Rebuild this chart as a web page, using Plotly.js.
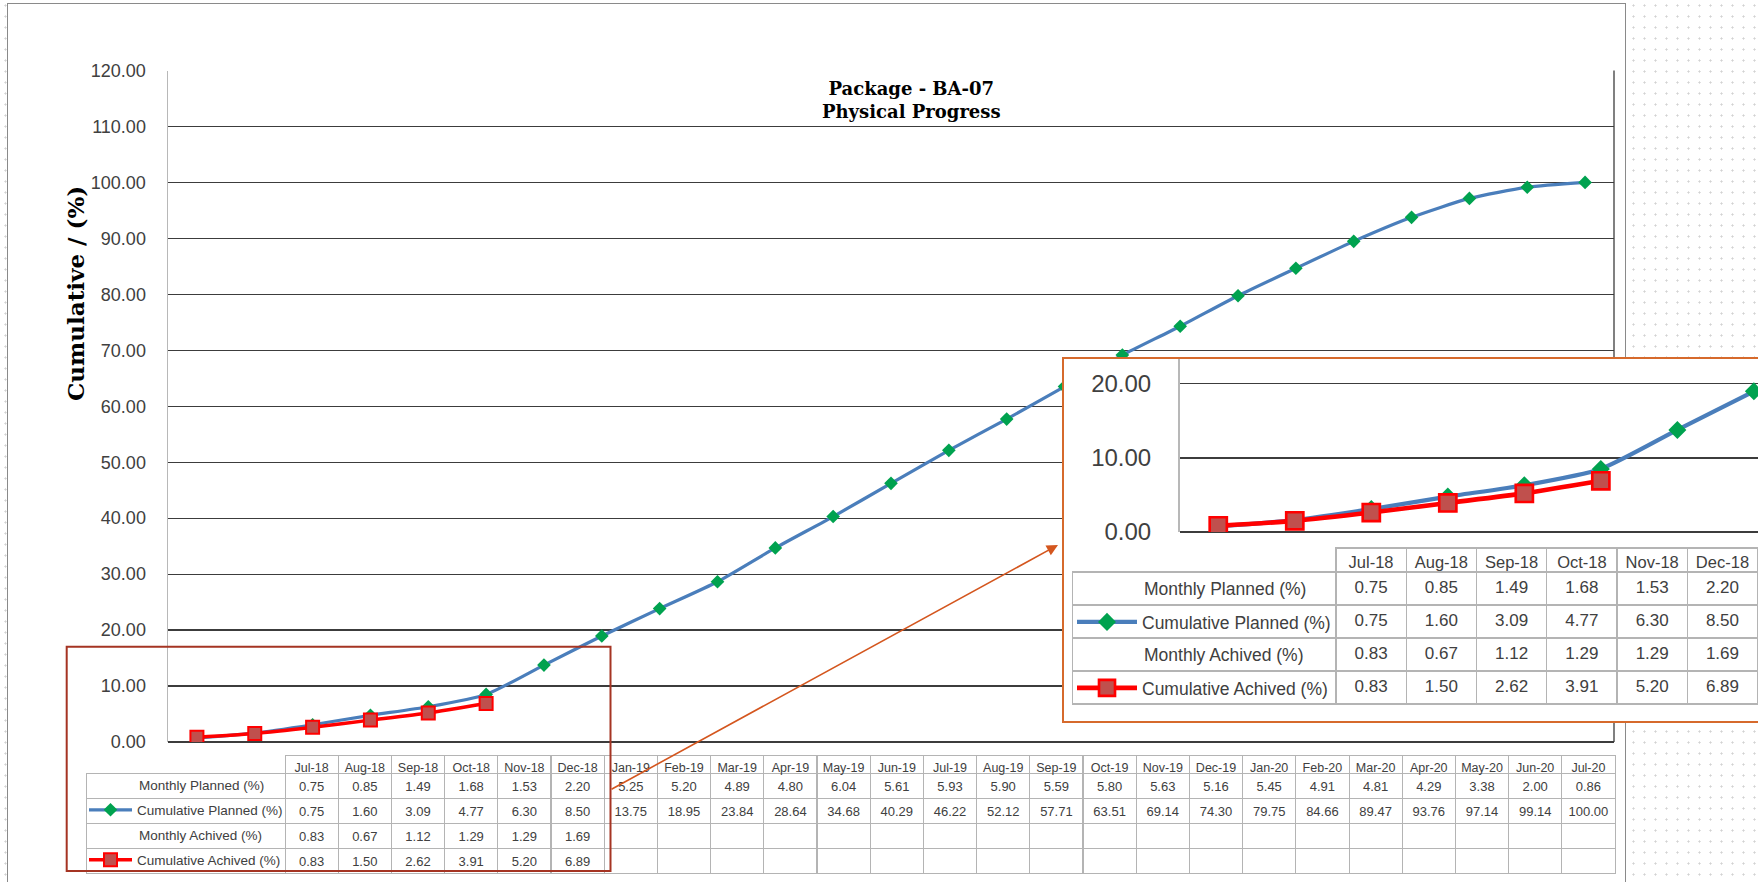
<!DOCTYPE html>
<html>
<head>
<meta charset="utf-8">
<script src="https://cdn.plot.ly/plotly-3.0.1.min.js"></script>
<style>
  html, body { margin:0; padding:0; width:1758px; height:882px; overflow:hidden; }
  body {
    background-color:#ffffff;
    background-image: radial-gradient(circle, #d2d2d2 0.9px, rgba(255,255,255,0) 1.2px);
    background-size: 11px 11px;
    position:relative;
  }
  #frame { position:absolute; left:7px; top:3px; width:1619px; height:900px; background:#ffffff; border:1.5px solid #8a8a8a; box-sizing:border-box; }
  #main { position:absolute; left:0; top:0; width:1758px; height:882px; }
  #inset { position:absolute; left:1062px; top:357px; width:700px; height:366px; background:#ffffff; border:2px solid #d66a2c; box-sizing:border-box; overflow:hidden; }
</style>
</head>
<body>
<div id="frame"></div>
<div id="main"></div>
<div id="inset"></div>
<script>
// ---------------- DATA ----------------
const months = ['Jul-18','Aug-18','Sep-18','Oct-18','Nov-18','Dec-18','Jan-19','Feb-19','Mar-19','Apr-19','May-19','Jun-19',
                'Jul-19','Aug-19','Sep-19','Oct-19','Nov-19','Dec-19','Jan-20','Feb-20','Mar-20','Apr-20','May-20','Jun-20','Jul-20'];
const monthlyPlanned = [0.75,0.85,1.49,1.68,1.53,2.20,5.25,5.20,4.89,4.80,6.04,5.61,5.93,5.90,5.59,5.80,5.63,5.16,5.45,4.91,4.81,4.29,3.38,2.00,0.86];
const cumulativePlanned = [0.75,1.60,3.09,4.77,6.30,8.50,13.75,18.95,23.84,28.64,34.68,40.29,46.22,52.12,57.71,63.51,69.14,74.30,79.75,84.66,89.47,93.76,97.14,99.14,100.00];
const monthlyAchieved = [0.83,0.67,1.12,1.29,1.29,1.69];
const cumulativeAchieved = [0.83,1.50,2.62,3.91,5.20,6.89];
const rowLabels = ['Monthly Planned (%)','Cumulative Planned (%)','Monthly Achived (%)','Cumulative Achived (%)'];
const chartTitle = ['Package - BA-07','Physical Progress'];
const yTitle = 'Cumulative / (%)';

// ---------------- HELPERS ----------------
const W = 1758, H = 882;
const fmt = v => (v === undefined || v === null) ? '' : v.toFixed(2);
const FONT = 'Liberation Sans, Arial, sans-serif';
const SERIF = 'DejaVu Serif, Liberation Serif, serif';
const TXT = '#404040';
const GRID = '#3c3c3c';

function tableColumns(n) {
  const cols = [['', '', '', '']];   // row labels are drawn as legend entries / annotations
  for (let i = 0; i < n; i++) {
    cols.push([fmt(monthlyPlanned[i]), fmt(cumulativePlanned[i]), fmt(monthlyAchieved[i]), fmt(cumulativeAchieved[i])]);
  }
  return cols;
}
function seriesTraces(s, legA, legB) {
  return [
    { type:'scatter', mode:'lines+markers', name: rowLabels[1], x: months, y: cumulativePlanned,
      legend: legA,
      line:{ color:'#4a7ebb', width: 3.2*s, shape:'spline', smoothing:0.6 },
      marker:{ symbol:'diamond', size: 10.5*s, color:'#00a24f', line:{ width:0 } }, hoverinfo:'x+y' },
    { type:'scatter', mode:'lines+markers', name: rowLabels[3], x: months.slice(0, cumulativeAchieved.length), y: cumulativeAchieved,
      legend: legB,
      line:{ color:'#ff0000', width: 3.5*s, shape:'spline', smoothing:0.6 },
      marker:{ symbol:'square', size: 13*s, color:'#c0504d', line:{ color:'#ff0000', width: 2*s } }, hoverinfo:'x+y' }
  ];
}
function labelAnnotations(xPx, rowYs, w, h, size) {
  return [0, 2].map((r, k) => ({
    xref:'paper', yref:'paper', x: xPx / w, y: 1 - rowYs[k] / h, xanchor:'left', yanchor:'middle',
    showarrow:false, text: rowLabels[r], font:{ family:FONT, size:size, color:TXT }
  }));
}

// ---------------- MAIN CHART ----------------
const nM = months.length;
const mainTable = {
  type:'table',
  domain:{ x:[86/W, 1615/W], y:[1-876/H, 1-755/H] },
  columnwidth:[199].concat(months.map(() => 53.2)),
  header:{ values:[''].concat(months), height:18, align:'center',
           line:{ color:['rgba(0,0,0,0)'].concat(months.map(() => '#b4b4b4')), width:1 },
           fill:{ color:'rgba(0,0,0,0)' }, font:{ family:FONT, size:12.5, color:TXT } },
  cells:{ values: tableColumns(nM), height:25, align:'center',
          line:{ color:'#b4b4b4', width:1 }, fill:{ color:'#ffffff' }, font:{ family:FONT, size:13, color:TXT } }
};

const mainData = seriesTraces(1, 'legend', 'legend2').concat([mainTable]);

const legendBase = { xanchor:'left', yanchor:'middle', bgcolor:'rgba(0,0,0,0)', borderwidth:0,
                     itemclick:false, itemdoubleclick:false };

const mainLayout = {
  width: W, height: H, margin:{ l:0, r:0, t:0, b:0 },
  paper_bgcolor:'rgba(0,0,0,0)', plot_bgcolor:'rgba(0,0,0,0)',
  font:{ family:FONT, color:TXT },
  showlegend:true,
  legend: Object.assign({}, legendBase, { x: 84/W, y: 1-810/H, itemwidth:43, font:{ family:FONT, size:13.5, color:TXT } }),
  legend2: Object.assign({}, legendBase, { x: 84/W, y: 1-860/H, itemwidth:43, font:{ family:FONT, size:13.5, color:TXT } }),
  xaxis:{ domain:[168/W, 1614/W], type:'category', range:[-0.5, nM-0.5], showticklabels:false,
          showgrid:false, zeroline:false, showline:false, fixedrange:true },
  yaxis:{ domain:[1-742/H, 1-70.5/H], range:[0,120], dtick:10, tickformat:'.2f',
          showgrid:true, gridcolor:GRID, gridwidth:1.2, zeroline:true, zerolinecolor:GRID, zerolinewidth:1.4,
          showline:true, linecolor:'#b8b8b8', linewidth:1.5, ticks:'', ticklabelstandoff:17,
          tickfont:{ family:FONT, size:18, color:TXT }, fixedrange:true },
  shapes:[
    { type:'line', xref:'x domain', yref:'y domain', x0:1, x1:1, y0:0, y1:1, line:{ color:GRID, width:1.3 } },
    { type:'rect', xref:'paper', yref:'paper', x0:66.7/W, x1:610.5/W, y0:1-871/H, y1:1-646.7/H,
      line:{ color:'#a53423', width:2 }, fillcolor:'rgba(0,0,0,0)', layer:'above' }
  ],
  annotations:[
    { xref:'paper', yref:'paper', x:912/W, y:1-100.5/H, xanchor:'center', yanchor:'middle', showarrow:false,
      text:'<b>' + chartTitle[0] + '</b><br><b>' + chartTitle[1] + '</b>',
      font:{ family:SERIF, size:18, color:'#000000' } },
    { xref:'paper', yref:'paper', x:76/W, y:1-294/H, xanchor:'center', yanchor:'middle', showarrow:false,
      textangle:-90, text:'<b>' + yTitle + '</b>', font:{ family:SERIF, size:23, color:'#000000' } },
    { xref:'paper', yref:'paper', x:1058/W, y:1-545/H, ax:610-1058, ay:790-545, showarrow:true, text:'',
      arrowhead:2, arrowsize:1.4, arrowwidth:1.6, arrowcolor:'#d4561e', standoff:0 }
  ].concat(labelAnnotations(137, [785, 835], W, H, 13.5))
};

Plotly.newPlot('main', mainData, mainLayout, { staticPlot:true, displayModeBar:false });

// ---------------- INSET (magnified lower-left) ----------------
const IW = 696, IH = 362;
const S = 1.32;
const nI = 6;
const insetTable = {
  type:'table',
  domain:{ x:[8.6/IW, 694/IW], y:[1-348/IH, 1-189/IH] },
  columnwidth:[263.4].concat(months.slice(0,nI).map(() => 70.3)),
  header:{ values:[''].concat(months.slice(0,nI)), height:24, align:'center',
           line:{ color:['rgba(0,0,0,0)'].concat(months.slice(0,nI).map(() => '#b4b4b4')), width:1.3 },
           fill:{ color:'rgba(0,0,0,0)' }, font:{ family:FONT, size:16.5, color:TXT } },
  cells:{ values: tableColumns(nI), height:33, align:'center',
          line:{ color:'#b4b4b4', width:1.3 }, fill:{ color:'#ffffff' }, font:{ family:FONT, size:17, color:TXT } }
};
const insetData = seriesTraces(S, 'legend', 'legend2').concat([insetTable]);
const insetLayout = {
  width: IW, height: IH, margin:{ l:0, r:0, t:0, b:0 },
  paper_bgcolor:'#ffffff', plot_bgcolor:'rgba(0,0,0,0)',
  font:{ family:FONT, color:TXT },
  showlegend:true,
  legend: Object.assign({}, legendBase, { x: 8/IW, y: 1-263/IH, itemwidth:60, font:{ family:FONT, size:17.5, color:TXT } }),
  legend2: Object.assign({}, legendBase, { x: 8/IW, y: 1-329/IH, itemwidth:60, font:{ family:FONT, size:17.5, color:TXT } }),
  xaxis:{ domain:[116/IW, 1], type:'category', range:[-0.5, 7.08], showticklabels:false,
          showgrid:false, zeroline:false, showline:false, fixedrange:true },
  yaxis:{ domain:[1-173/IH, 1], range:[0, 23.3], dtick:10, tickformat:'.2f',
          showgrid:true, gridcolor:GRID, gridwidth:1.5, zeroline:true, zerolinecolor:GRID, zerolinewidth:1.8,
          showline:true, linecolor:'#b8b8b8', linewidth:2, ticks:'', ticklabelstandoff:22,
          tickfont:{ family:FONT, size:24, color:TXT }, fixedrange:true },
  annotations: labelAnnotations(78, [230, 295.5], IW, IH, 17.5)
};
Plotly.newPlot('inset', insetData, insetLayout, { staticPlot:true, displayModeBar:false });
</script>
</body>
</html>
